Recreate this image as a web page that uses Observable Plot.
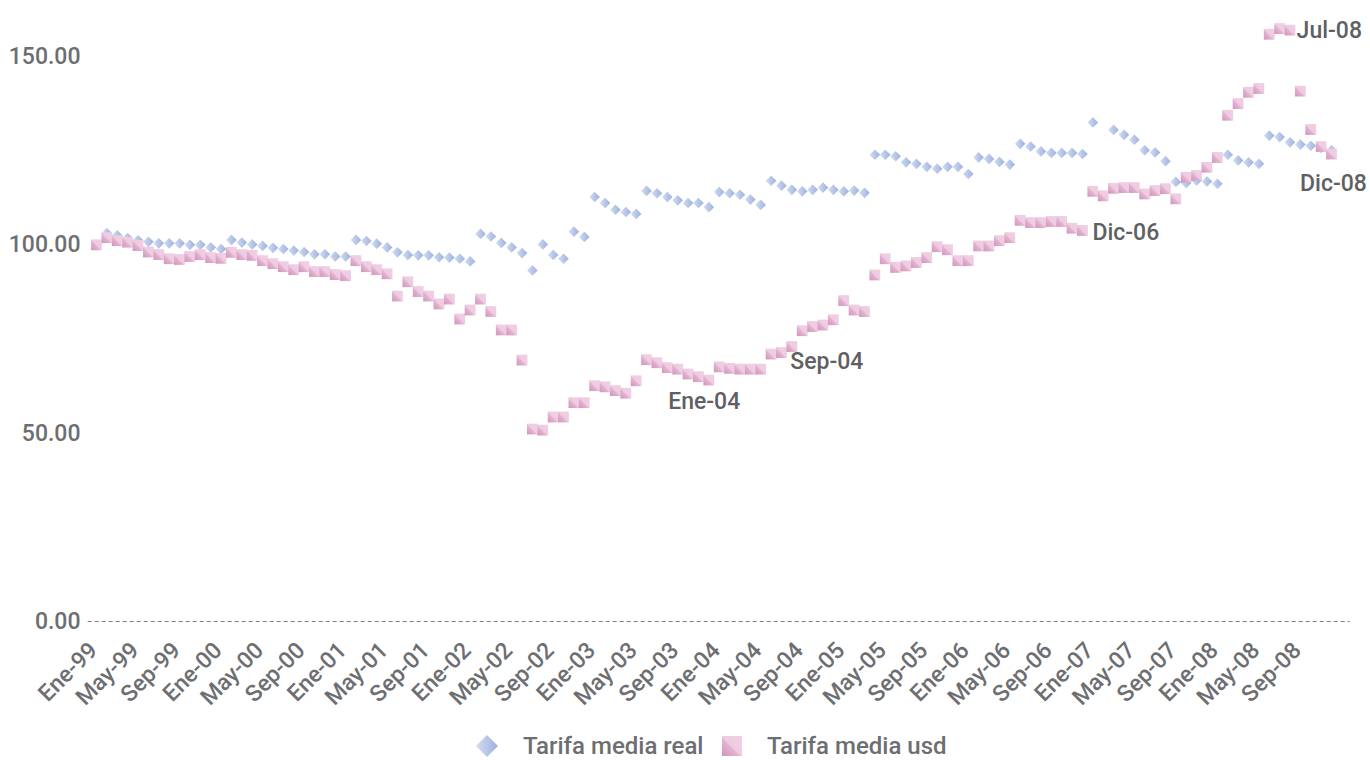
<!DOCTYPE html>
<html>
<head>
<meta charset="utf-8">
<script src="https://cdn.jsdelivr.net/npm/d3@7"></script>
<script src="https://cdn.jsdelivr.net/npm/@observablehq/plot@0.6"></script>
<style>
  body { margin: 0; background: #ffffff; font-family: Roboto, "Noto Sans", sans-serif; }
  #wrap { position: relative; width: 1370px; height: 760px; overflow: hidden; background: #fff; }
  .lg { position: absolute; height: 28px; top: 732px; display: flex; align-items: center;
        font-size: 24px; line-height: 28px; font-weight: 500; color: #6d6e71; white-space: nowrap; }
  .lg svg { display: block; }
</style>
</head>
<body>
<div id="wrap">
  <div id="chart"></div>
  <div class="lg" style="left:476px"><svg width="22" height="22" viewBox="0 0 22 22"><defs><linearGradient id="lgD" x1="0" y1="0" x2="1" y2="0"><stop offset="0" stop-color="#d3ddf2"/><stop offset="1" stop-color="#9db1de"/></linearGradient></defs><path d="M11 0 L22 11 L11 22 L0 11 Z" fill="url(#lgD)"/></svg></div>
  <div class="lg" style="left:523px" id="lgText1"></div>
  <div class="lg" style="left:722px"><svg width="20" height="20" viewBox="0 0 20 20"><defs><linearGradient id="lgS" x1="0" y1="1" x2="1" y2="0"><stop offset="0" stop-color="#d293bb"/><stop offset="0.42" stop-color="#e2b2d0"/><stop offset="0.5" stop-color="#eecbe1"/><stop offset="1" stop-color="#f0cfe4"/></linearGradient></defs><rect x="0" y="0" width="20" height="20" fill="url(#lgS)"/></svg></div>
  <div class="lg" style="left:767px" id="lgText2"></div>
</div>
<script>
// ---- categories ----
const monthNames = ["Ene","Feb","Mar","Abr","May","Jun","Jul","Ago","Sep","Oct","Nov","Dic"];
const yearNames = ["99","00","01","02","03","04","05","06","07","08"];
const periods = yearNames.flatMap(y => monthNames.map(m => `${m}-${y}`));

// ---- series names ----
const seriesReal = "Tarifa media real";
const seriesUsd = "Tarifa media usd";

// ---- series values (index, Ene-99 = 100) ----
const tarifaReal = [
  100.0, 103.1, 102.5, 101.8, 101.2, 100.8, 100.4, 100.4, 100.4, 100.0,
  100.0, 99.3, 98.9, 101.3, 100.6, 100.1, 99.7, 99.2, 98.9, 98.5,
  98.1, 97.5, 97.5, 96.9, 96.9, 101.3, 101.0, 100.3, 99.3, 98.0,
  97.3, 97.2, 97.2, 96.7, 96.6, 96.3, 95.6, 102.9, 102.2, 100.5,
  99.3, 97.8, 93.2, 100.1, 97.3, 96.3, 103.5, 102.1, 112.7, 111.1,
  109.3, 108.7, 108.2, 114.3, 113.7, 112.7, 111.8, 111.1, 111.1, 110.0,
  114.0, 113.7, 113.3, 112.0, 110.6, 117.0, 115.7, 114.6, 114.2, 114.6,
  115.2, 114.6, 114.2, 114.4, 113.8, 123.9, 123.9, 123.5, 121.9, 121.5,
  120.7, 120.2, 120.7, 120.7, 118.8, 123.2, 122.8, 122.0, 121.3, 126.8,
  126.1, 124.8, 124.4, 124.4, 124.4, 124.1, 132.5, null, 130.5, 129.2,
  127.9, 125.1, 124.5, 122.2, 116.7, 116.4, 117.1, 116.8, 116.2, 123.9,
  122.4, 121.9, 121.5, 129.0, 128.6, 127.2, 126.6, 126.3, 125.7, 125.1
];
const tarifaUsd = [
  100.0, 101.9, 101.1, 100.7, 99.8, 98.1, 97.4, 96.3, 96.1, 96.9,
  97.4, 96.6, 96.4, 98.0, 97.4, 97.2, 95.8, 95.0, 94.2, 93.4,
  94.2, 92.9, 92.9, 92.1, 91.8, 95.8, 94.2, 93.4, 92.3, 86.4,
  90.2, 87.6, 86.4, 84.3, 85.6, 80.3, 82.7, 85.6, 82.3, 77.4,
  77.4, 69.4, 51.1, 50.8, 54.3, 54.3, 58.1, 58.1, 62.6, 62.3,
  61.3, 60.6, 63.9, 69.5, 68.7, 67.4, 67.0, 65.7, 65.0, 64.1,
  67.6, 67.2, 67.0, 67.0, 67.0, 71.0, 71.4, 73.0, 77.2, 78.3,
  78.7, 80.1, 85.2, 82.7, 82.3, 92.0, 96.3, 94.0, 94.4, 95.3,
  96.6, 99.5, 98.7, 95.8, 95.8, 99.7, 99.7, 101.1, 101.9, 106.5,
  105.9, 105.9, 106.2, 106.2, 104.4, 103.8, 114.2, 113.0, 115.0, 115.2,
  115.2, 113.5, 114.4, 114.9, 112.2, 117.9, 118.4, 120.6, 123.2, 134.4,
  137.5, 140.5, 141.5, 155.9, 157.4, 157.0, 140.8, 130.6, 126.1, 124.1
];

// ---- tick labels ----
const xTickLabels = periods.filter((d, i) => i % 4 === 0);
const yTicks = [0, 50, 100, 150];

// ---- annotated points (on the usd series) ----
const annotations = [
  { label: "Ene-04", dx: -15, dy: 35, anchor: "middle" },
  { label: "Sep-04", dx: -12, dy: 31, anchor: "start" },
  { label: "Dic-06", dx: 10, dy: 2, anchor: "start" },
  { label: "Jul-08", dx: 17, dy: 2, anchor: "start" },
  { label: "Dic-08", dx: 2, dy: 30, anchor: "middle" }
];

// ---- build tables ----
const realData = periods.map((p, i) => ({ i, period: p, value: tarifaReal[i] }));
const usdData = periods.map((p, i) => ({ i, period: p, value: tarifaUsd[i] }));
const xTickIdx = xTickLabels.map(l => periods.indexOf(l));
const axisPad = { left: 0.8, right: 1.8 };

const annMarks = annotations.map(a => {
  const i = periods.indexOf(a.label);
  return Plot.text([{ i, value: tarifaUsd[i], label: a.label }], {
    x: "i", y: "value", text: "label", dx: a.dx, dy: a.dy, textAnchor: a.anchor,
    fontSize: 23, fontWeight: 500, fill: "#5f6062"
  });
});

document.getElementById("lgText1").textContent = seriesReal;
document.getElementById("lgText2").textContent = seriesUsd;

const chart = Plot.plot({
  width: 1370,
  height: 725,
  marginLeft: 96,
  marginRight: 39,
  marginTop: 18.3,
  marginBottom: 104,
  style: { fontFamily: "Roboto, 'Noto Sans', sans-serif", fontSize: "22px", color: "#6d6e71", background: "transparent", overflow: "visible" },
  x: { domain: [0, periods.length - 1], axis: null },
  y: { domain: [0, 160], axis: null },
  marks: [
    Plot.ruleY([0], { x1: -axisPad.left, x2: periods.length - 1 + axisPad.right, stroke: "#7f7f7f", strokeWidth: 1.2, strokeDasharray: "4,3" }),
    Plot.axisY({ ticks: yTicks, tickFormat: d3.format(".2f"), tickSize: 0, tickPadding: 16, label: null, fontSize: 23, fontWeight: 500 }),
    Plot.axisX({ ticks: xTickIdx, tickFormat: i => periods[i], tickRotate: -45, tickSize: 0, tickPadding: 25, dx: -3, label: null, fontSize: 23, fontWeight: 500 }),
    Plot.dot(realData, { x: "i", y: "value", symbol: "diamond2", r: 4.8, fill: "url(#gDiamond)", stroke: null }),
    Plot.dot(usdData, { x: "i", y: "value", symbol: "square", r: 6.1, fill: "url(#gSquare)", stroke: null }),
    ...annMarks
  ]
});

document.getElementById("chart").appendChild(chart);

// gradients
const svg = d3.select(chart);
const defs = svg.insert("defs", ":first-child");
const gd = defs.append("linearGradient").attr("id", "gDiamond").attr("x1", 0).attr("y1", 0).attr("x2", 1).attr("y2", 0);
gd.append("stop").attr("offset", 0).attr("stop-color", "#d3ddf2");
gd.append("stop").attr("offset", 1).attr("stop-color", "#9db1de");
const gs = defs.append("linearGradient").attr("id", "gSquare").attr("x1", 0).attr("y1", 1).attr("x2", 1).attr("y2", 0);
gs.append("stop").attr("offset", 0).attr("stop-color", "#d293bb");
gs.append("stop").attr("offset", 0.42).attr("stop-color", "#e2b2d0");
gs.append("stop").attr("offset", 0.5).attr("stop-color", "#eecbe1");
gs.append("stop").attr("offset", 1).attr("stop-color", "#f0cfe4");
</script>
</body>
</html>
